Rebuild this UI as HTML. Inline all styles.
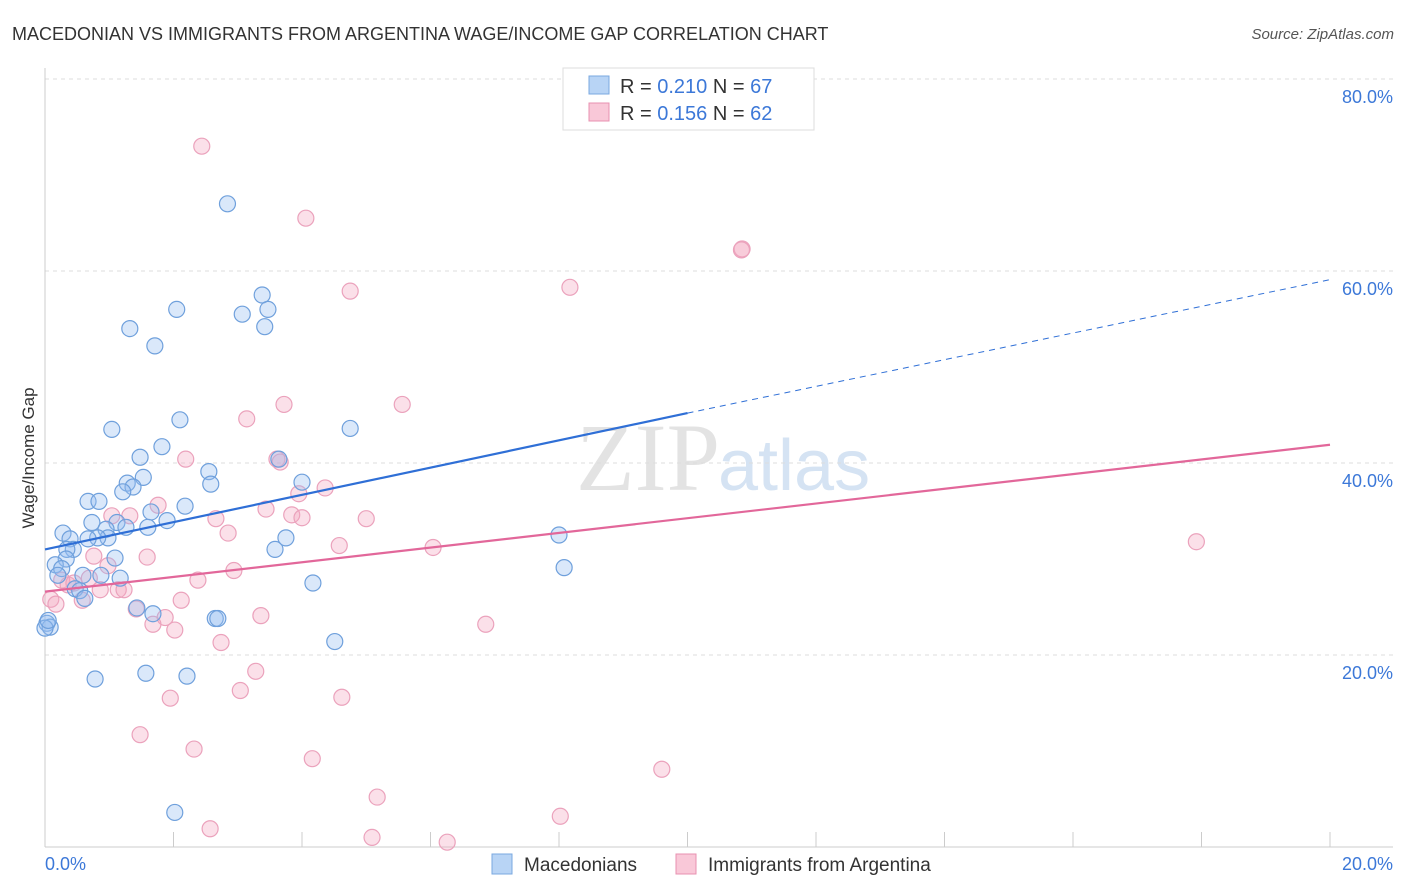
<!DOCTYPE html>
<html><head><meta charset="utf-8"><style>
body{margin:0;background:#fff;font-family:"Liberation Sans",sans-serif;}
svg{display:block}
</style></head><body>
<svg id="chart" width="1406" height="892">
<text x="12" y="40" font-size="18" fill="#333">MACEDONIAN VS IMMIGRANTS FROM ARGENTINA WAGE/INCOME GAP CORRELATION CHART</text>
<text x="1394" y="39" font-size="15" fill="#555" text-anchor="end" font-style="italic">Source: ZipAtlas.com</text>
<text x="720" y="490" font-size="96" fill="#e3e3e3" text-anchor="end" font-family="Liberation Serif">ZIP</text>
<text x="718" y="490" font-size="72" fill="#d5e3f3">atlas</text>
<g id="grid"></g>
<g id="axes"></g>
<g id="marks"></g>
<text x="-458" y="34" transform="rotate(-90)" font-size="17" fill="#333" text-anchor="middle">Wage/Income Gap</text>
<g>
<rect x="563" y="68" width="251" height="62" fill="#fff" stroke="#ddd"/>
<rect x="589" y="76" width="20" height="18" fill="#b8d4f5" stroke="#7aa8e0"/>
<text x="620" y="93" font-size="20" fill="#333">R = <tspan fill="#3c78d8">0.210</tspan>   N = <tspan fill="#3c78d8">67</tspan></text>
<rect x="589" y="103" width="20" height="18" fill="#f9c8d8" stroke="#e891b0"/>
<text x="620" y="120" font-size="20" fill="#333">R = <tspan fill="#3c78d8">0.156</tspan>   N = <tspan fill="#3c78d8">62</tspan></text>
</g>
<g>
<rect x="492" y="854" width="20" height="20" fill="#b8d4f5" stroke="#7aa8e0"/>
<text x="524" y="871" font-size="19" fill="#333">Macedonians</text>
<rect x="676" y="854" width="20" height="20" fill="#f9c8d8" stroke="#e891b0"/>
<text x="708" y="871" font-size="19" fill="#333">Immigrants from Argentina</text>
</g>
</svg>
<script>
const blueX=[2.84,3.38,3.47,2.05,3.07,3.42,1.32,1.71,2.1,4.75,1.04,1.82,1.48,3.64,2.55,4.0,2.58,1.53,1.28,1.37,1.21,0.67,0.84,2.18,1.65,1.9,0.73,1.12,1.26,0.95,1.6,0.28,0.39,0.98,0.82,0.67,0.44,0.34,3.75,8.0,3.58,0.33,1.09,0.16,0.26,0.2,0.59,0.87,1.17,4.17,8.08,0.47,0.54,0.62,1.43,1.68,2.65,2.69,0.03,0.08,4.51,0.78,1.57,2.21,2.02,0.0,0.05];
const blueY=[67,57.5,56,56,55.5,54.2,54,52.2,44.5,43.6,43.5,41.7,40.6,40.4,39.1,38,37.8,38.5,37.9,37.5,37,36,36,35.5,34.9,34,33.8,33.8,33.3,33.1,33.3,32.7,32.1,32.2,32.2,32.1,31,31,32.2,32.5,31,30,30.1,29.4,29,28.3,28.3,28.3,28,27.5,29.1,26.9,26.7,25.9,24.9,24.3,23.8,23.8,23.3,22.9,21.4,17.5,18.1,17.8,3.6,22.8,23.6];
const pinkX=[2.44,4.06,10.85,10.84,8.17,4.75,3.72,5.56,3.14,2.19,3.61,3.66,3.95,4.36,1.76,2.66,1.32,1.04,3.44,3.84,4.0,5.0,2.85,1.59,0.76,4.58,6.04,17.92,0.98,2.94,2.38,0.69,0.26,0.36,0.45,0.86,1.14,1.23,0.09,0.17,0.58,2.12,1.42,1.87,1.68,2.02,6.86,2.74,3.36,3.28,3.04,4.62,1.95,1.48,2.32,4.16,9.6,5.17,2.57,8.02,5.09,6.26];
const pinkY=[73,65.5,62.3,62.2,58.3,57.9,46.1,46.1,44.6,40.4,40.4,40.1,36.8,37.4,35.6,34.2,34.5,34.5,35.2,34.6,34.3,34.2,32.7,30.2,30.3,31.4,31.2,31.8,29.3,28.8,27.8,28,27.8,27.3,27.5,26.8,26.8,26.8,25.8,25.3,25.7,25.7,24.8,23.9,23.2,22.6,23.2,21.3,24.1,18.3,16.3,15.6,15.5,11.7,10.2,9.2,8.1,5.2,1.9,3.2,1.0,0.5];
const yTicks=[20,40,60,80];
const xTicks=[0,2,4,6,8,10,12,14,16,18,20];
const blueFit=[31.0,45.2,59.1]; // at x=0,10,20
const pinkFit=[26.6,41.9];      // at x=0,20
const X=v=>45+v*64.25, Y=v=>847-v*9.6;
const NS="http://www.w3.org/2000/svg";
function mk(tag,attrs,parent){const e=document.createElementNS(NS,tag);for(const k in attrs)e.setAttribute(k,attrs[k]);parent.appendChild(e);return e;}
const grid=document.getElementById('grid'),axes=document.getElementById('axes'),marks=document.getElementById('marks');
yTicks.forEach(t=>{
 const l=mk('line',{x1:45,x2:1393,y1:Y(t),y2:Y(t),stroke:'#ddd','stroke-dasharray':'4,4'},grid);
 
 
 const tx=mk('text',{x:1393,y:Y(t)+24,'font-size':18,fill:'#3c78d8','text-anchor':'end'},axes);
 tx.textContent=t.toFixed(1)+'%';
 
 
});
mk('line',{x1:45,x2:45,y1:68,y2:847,stroke:'#ccc'},axes);
mk('line',{x1:45,x2:1393,y1:847,y2:847,stroke:'#ccc'},axes);
xTicks.forEach(t=>{
 const l=mk('line',{x1:X(t),x2:X(t),y1:832,y2:847,stroke:'#ccc'},axes);
 
 
});
[[0,'start'],[20,'end']].forEach(([t,a])=>{
 const tx=mk('text',{x:t==0?45:1393,y:870,'font-size':18,fill:'#3c78d8','text-anchor':a},axes);
 tx.textContent=t.toFixed(1)+'%';
 
 
});
pinkX.forEach((v,i)=>{
 const c=mk('circle',{cx:X(v),cy:Y(pinkY[i]),r:8,fill:'rgba(244,167,193,0.35)',stroke:'#eba2bc','stroke-width':1.2},marks);
 
 
});
blueX.forEach((v,i)=>{
 const c=mk('circle',{cx:X(v),cy:Y(blueY[i]),r:8,fill:'rgba(150,190,240,0.35)',stroke:'#6fa0dc','stroke-width':1.2},marks);
 
 
});
let l=mk('line',{x1:X(0),y1:Y(blueFit[0]),x2:X(10),y2:Y(blueFit[1]),stroke:'#2f6fd6','stroke-width':2.2},marks);


l=mk('line',{x1:X(10),y1:Y(blueFit[1]),x2:X(20),y2:Y(blueFit[2]),stroke:'#2f6fd6','stroke-width':1,'stroke-dasharray':'6,5'},marks);


l=mk('line',{x1:X(0),y1:Y(pinkFit[0]),x2:X(20),y2:Y(pinkFit[1]),stroke:'#e2679a','stroke-width':2.2},marks);


</script>
</body></html>
